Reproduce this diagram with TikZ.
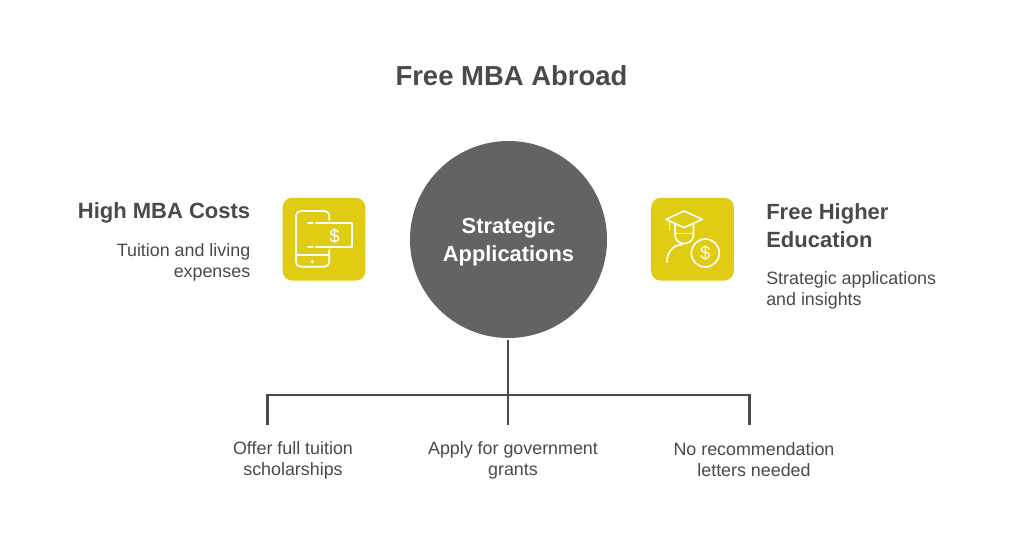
\documentclass[tikz,border=0pt]{standalone}
\usepackage{fontspec}
\setmainfont{Liberation Sans}
\definecolor{inkgrey}{HTML}{4A4A4A}
\definecolor{discgrey}{HTML}{636363}
\definecolor{iconyellow}{HTML}{E0CC12}
\tikzset{heading/.style = {text=inkgrey,font=\fontsize{20.6}{25}\selectfont\bfseries}}
\tikzset{label/.style = {text=inkgrey,font=\fontsize{16.5}{21}\selectfont\bfseries,inner sep=0pt}}
\tikzset{blurb/.style = {text=inkgrey,font=\fontsize{13.4}{15.75}\selectfont,inner sep=0pt}}
\tikzset{disc/.style = {shape=circle,fill=discgrey,minimum size=147.75pt,inner sep=0pt}}
\tikzset{disctext/.style = {text=white,inner sep=0pt,align=center,font=\fontsize{16.4}{21}\selectfont\bfseries}}
\tikzset{tile/.style = {shape=rectangle,fill=iconyellow,rounded corners=7pt,minimum size=62pt,inner sep=0pt}}
\tikzset{branch/.style = {draw=inkgrey,line width=1.7pt}}
\tikzset{glyph/.style = {draw=white,line width=1.25pt,line cap=round,line join=round}}
\tikzset{glyphtext/.style = {text=white,inner sep=0pt,font=\fontsize{14}{14}\selectfont}}

\begin{document}
\begin{tikzpicture}[x=0.75pt,y=-0.75pt]
        \useasboundingbox (0,0) rectangle (1024,536);
        \fill[white] (0,0) rectangle (1024,536);
        \node[heading] (title) at (511.5,76) {Free MBA Abroad};
        \node[disc] (hub) at (508.5,239.5) {};
        \node[disctext] (hubtext) at (508.5,242) {Strategic\\Applications};
        % left side
        \node[tile] (costicon) at (324,239.2) {};
        \node[label,anchor=east] (costs) at (250.5,213) {High MBA Costs};
        \node[blurb,anchor=north east,align=right] (costtext) at (250.5,243.5) {Tuition and living\\expenses};
        % phone and bill
        \draw[glyph,rounded corners=3.5pt] (329.3,220) -- (329.3,211) -- (296,211) -- (296,266.7) -- (329.3,266.7) -- (329.3,250);
        \draw[glyph] (296,255) -- (329.3,255);
        \fill[white] (312.3,261.7) circle (1.8);
        \draw[glyph] (308,223.3) -- (313,223.3) (316,223.3) -- (352,223.3) -- (352,247.3) -- (316,247.3) (313,247.3) -- (308,247.3);
        \node[glyphtext] (billsign) at (334.5,236) {\$};
        % right side
        \node[tile] (gradicon) at (692.5,239.2) {};
        \node[label,anchor=west,align=left] (free) at (766,225.5) {Free Higher\\Education};
        \node[blurb,anchor=north west,align=left] (freetext) at (766,271.5) {Strategic applications\\and insights};
        % graduate and coin
        \draw[glyph] (666,219.3) -- (684,211) -- (702.3,219.3) -- (684,227.7) -- cycle;
        \draw[glyph] (669.5,221) -- (669.5,229.5);
        \draw[glyph] (675,224) -- (675,235) .. controls (675,241) and (680,243.5) .. (684,243.5) .. controls (688,243.5) and (693.5,241) .. (693.5,235) -- (693.5,224);
        \draw[glyph] (675,233.5) -- (693.5,233.5);
        \draw[glyph] (667,262) .. controls (667,252) and (673,245) .. (682,244.5);
        \draw[glyph] (705.3,253) circle (14);
        \node[glyphtext] (coinsign) at (705.3,253) {\$};
        % tree below the hub
        \node[blurb,align=center] (leafa) at (293,460.5) {Offer full tuition\\scholarships};
        \node[blurb,align=center] (leafb) at (513,460.5) {Apply for government\\grants};
        \node[blurb,align=center] (leafc) at (754,459.5) {No recommendation\\letters needed};
        \coordinate (stem) at (508,340);
        \coordinate (fork) at (508,395);
        \coordinate (enda) at (267.5,425);
        \coordinate (endb) at (508,425);
        \coordinate (endc) at (749.5,425);
        \draw[branch] (stem) -- (fork);
        \draw[branch] (fork) -- (endb);
        \draw[branch] (enda) -- (enda |- fork) -- (endc |- fork) -- (endc);
\end{tikzpicture}
\end{document}
